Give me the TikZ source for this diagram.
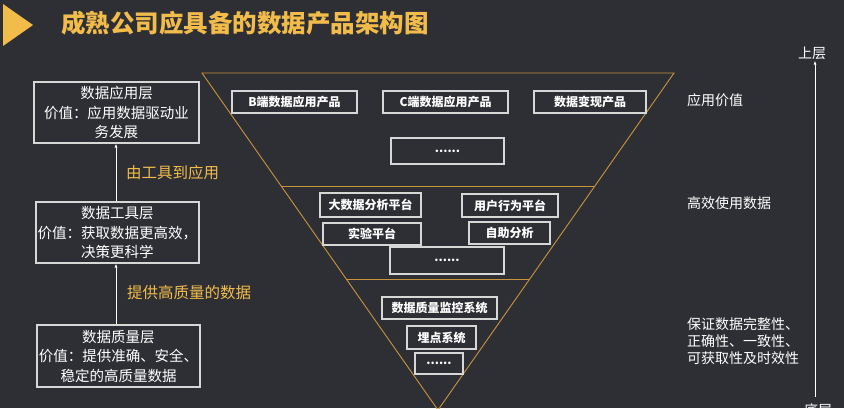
\documentclass[tikz,border=0pt]{standalone}
\usepackage{fontspec}
\setmainfont{Noto Sans CJK SC}
\usetikzlibrary{arrows.meta}
\definecolor{bgdark}{RGB}{46,47,53}
\definecolor{titlegold}{RGB}{242,188,74}
\definecolor{linegold}{RGB}{201,147,58}
\definecolor{boxline}{RGB}{215,215,215}
\begin{document}
\begin{tikzpicture}[
  x=1pt, y=-1pt,
  archbox/.style = {draw=boxline, line width=1.1pt, fill=bgdark, text=white,
    inner sep=0pt, font=\fontsize{12}{14}\selectfont\bfseries},
  archlayer/.style = {archbox, align=center, font=\fontsize{14.5}{19.5}\selectfont},
  archgold/.style = {text=titlegold, font=\fontsize{15.5}{18}\selectfont, anchor=west, inner sep=0pt},
  archnote/.style = {text=white, font=\fontsize{14}{17}\selectfont, anchor=west, align=left, inner sep=0pt},
  archarrow/.style = {white, line width=0.8pt, -{Latex[length=4pt,width=3pt]}}
]
  % background
  \fill[bgdark] (0,0) rectangle (844,408);
  \useasboundingbox (0,0) rectangle (844,408);
  % title
  \fill[titlegold] (3,4) -- (33,25) -- (3,46) -- cycle;
  \node[text=titlegold, font=\fontsize{24.5}{27}\selectfont\bfseries, anchor=west, inner sep=0pt]
    (title) at (61,23) {成熟公司应具备的数据产品架构图};
  % inverted triangle
  \draw[linegold, line width=0.9pt] (202,73) -- (674,73) -- (438,410) -- cycle;
  \draw[linegold, line width=0.9pt] (281,186) -- (595,186);
  \draw[linegold, line width=0.9pt] (346,279) -- (530,279);
  % application level
  \node[archbox, minimum width=125, minimum height=22] (bapp) at (294.5,102) {B端数据应用产品};
  \node[archbox, minimum width=125, minimum height=22] (capp) at (445.5,102) {C端数据应用产品};
  \node[archbox, minimum width=112, minimum height=22] (money) at (590,102) {数据变现产品};
  \node[archbox, minimum width=113, minimum height=26] (appmore) at (447.5,151) {......};
  % tool level
  \node[archbox, minimum width=101, minimum height=24] (bigdata) at (370.5,205) {大数据分析平台};
  \node[archbox, minimum width=96, minimum height=23] (userbeh) at (510,205.5) {用户行为平台};
  \node[archbox, minimum width=98, minimum height=22] (abtest) at (372,234) {实验平台};
  \node[archbox, minimum width=81, minimum height=22] (selfana) at (509.5,233) {自助分析};
  \node[archbox, minimum width=114, minimum height=27] (toolmore) at (447,260.5) {......};
  % quality level
  \node[archbox, minimum width=115, minimum height=22] (monitor) at (439.5,308) {数据质量监控系统};
  \node[archbox, minimum width=69, minimum height=23] (tracking) at (441.5,337.5) {埋点系统};
  \node[archbox, minimum width=48, minimum height=21] (qualmore) at (439,363.5) {......};
  % left layers
  \node[archlayer, minimum width=165, minimum height=61] (applayer) at (116.5,112.5)
    {数据应用层\\价值：应用数据驱动业\\务发展};
  \node[archlayer, minimum width=163, minimum height=61] (toollayer) at (117.5,232.5)
    {数据工具层\\价值：获取数据更高效，\\决策更科学};
  \node[archlayer, minimum width=163, minimum height=62] (quallayer) at (118.5,356)
    {数据质量层\\价值：提供准确、安全、\\稳定的高质量数据};
  \draw[archarrow] (quallayer.north -| 116,0) -- (toollayer.south -| 116,0);
  \draw[archarrow] (toollayer.north -| 116,0) -- (applayer.south -| 116,0);
  \node[archgold] (lbltool) at (126,173) {由工具到应用};
  \node[archgold] (lblqual) at (127,293) {提供高质量的数据};
  % right notes
  \node[archnote] (noteapp) at (687,100) {应用价值};
  \node[archnote] (notetool) at (687,203) {高效使用数据};
  \node[archnote] (notequal) at (687,341) {保证数据完整性、\\正确性、一致性、\\可获取性及时效性};
  \node[text=white, font=\fontsize{14}{16}\selectfont, inner sep=1pt] (upper) at (812,53) {上层};
  \node[text=white, font=\fontsize{14}{16}\selectfont, inner sep=1pt] (lower) at (818,410) {底层};
  \coordinate (axisbot) at (815,397);
  \draw[archarrow] (axisbot) -- (axisbot |- upper.south);
\end{tikzpicture}
\end{document}
